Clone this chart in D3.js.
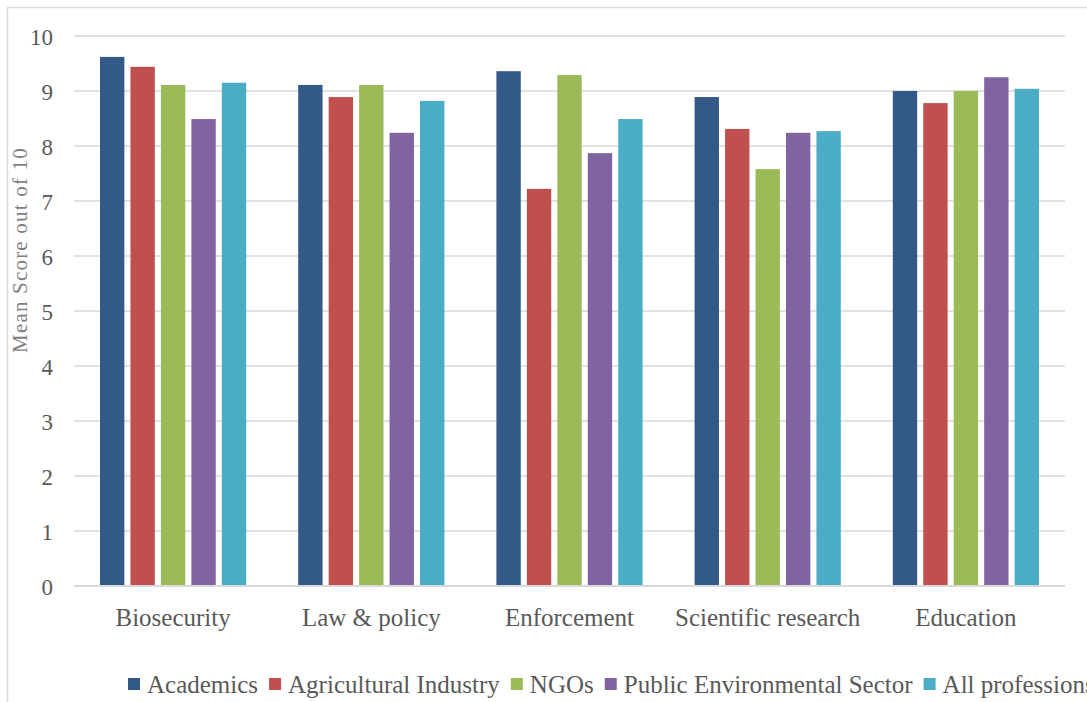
<!DOCTYPE html>
<html>
<head>
<meta charset="utf-8">
<script src="https://cdn.jsdelivr.net/npm/d3@7"></script>
<style>
  html, body { margin: 0; padding: 0; background: #fff; }
  svg { display: block; }
  text { font-family: "Liberation Serif", "DejaVu Serif", serif; }
</style>
</head>
<body>
<svg id="chart" width="1087" height="702"></svg>
<script>
// Mean importance scores by domain and professional group
const categories = ["Biosecurity", "Law & policy", "Enforcement", "Scientific research", "Education"];
const seriesNames = ["Academics", "Agricultural Industry", "NGOs", "Public Environmental Sector", "All professions"];
const academics     = [9.62, 9.11, 9.36, 8.89, 9.00];
const agricultural  = [9.44, 8.89, 7.22, 8.31, 8.78];
const ngos          = [9.11, 9.11, 9.29, 7.58, 9.00];
const publicEnv     = [8.49, 8.24, 7.87, 8.24, 9.25];
const allProf       = [9.15, 8.82, 8.49, 8.27, 9.04];
const yTicks = [0, 1, 2, 3, 4, 5, 6, 7, 8, 9, 10];

const seriesValues = [academics, agricultural, ngos, publicEnv, allProf];
const colors = ["#335a86", "#c0504d", "#9bbb59", "#8064a2", "#4bacc6"];

const svg = d3.select("#chart");
const W = 1087, H = 702;
const m = { left: 74, right: 22, top: 36, bottom: 116 };
const textColor = "#595959";

// outer chart border (runs off the right and bottom edges)
svg.append("rect")
  .attr("x", 7.5).attr("y", 7.5)
  .attr("width", 1100).attr("height", 720)
  .attr("fill", "none").attr("stroke", "#dcdcdc").attr("stroke-width", 1.5);

const x0 = d3.scaleBand().domain(categories).range([m.left, W - m.right]);
const x1 = d3.scaleBand().domain(seriesNames).range([26, x0.bandwidth() - 26]).paddingInner(0.2);
const y = d3.scaleLinear().domain([0, 10]).range([H - m.bottom, m.top]);

// gridlines
svg.append("g").selectAll("line").data(yTicks.filter(d => d > 0)).join("line")
  .attr("x1", m.left).attr("x2", W - m.right)
  .attr("y1", d => y(d)).attr("y2", d => y(d))
  .attr("stroke", "#d9d9d9").attr("stroke-width", 1.5);

// y tick labels
const yAxis = d3.axisLeft(y).tickValues(yTicks).tickSize(0).tickPadding(0).tickFormat(d3.format("d"));
const yg = svg.append("g").attr("transform", `translate(${m.left - 21},0)`).call(yAxis);
yg.select(".domain").remove();
yg.selectAll("text").attr("font-size", 23).attr("fill", textColor)
  .attr("font-family", "Liberation Serif, serif").attr("dy", "0.35em");

// bars
const groups = svg.append("g").selectAll("g").data(categories).join("g")
  .attr("transform", d => `translate(${x0(d)},0)`);
groups.selectAll("rect")
  .data((c, i) => seriesNames.map((s, j) => ({ s, v: seriesValues[j][i], j })))
  .join("rect")
  .attr("x", d => x1(d.s))
  .attr("width", x1.bandwidth())
  .attr("y", d => y(d.v))
  .attr("height", d => y(0) - y(d.v))
  .attr("fill", d => colors[d.j]);

// baseline
svg.append("line")
  .attr("x1", m.left).attr("x2", W - m.right)
  .attr("y1", y(0)).attr("y2", y(0))
  .attr("stroke", "#d9d9d9").attr("stroke-width", 2);

// category labels
const xAxis = d3.axisBottom(x0).tickSize(0).tickPadding(0);
const xg = svg.append("g").attr("transform", `translate(0,${y(0) + 31})`).call(xAxis);
xg.select(".domain").remove();
xg.selectAll("text").attr("font-size", 25).attr("fill", textColor)
  .attr("font-family", "Liberation Serif, serif").attr("dy", "0.35em");

// y axis title
svg.append("text")
  .attr("transform", "translate(27,250) rotate(-90)")
  .attr("text-anchor", "middle")
  .attr("font-size", 21).attr("letter-spacing", 1.2).attr("fill", "#7f7f7f")
  .text("Mean Score out of 10");

// legend
const legend = svg.append("g").attr("transform", "translate(128,684)");
let lx = 0;
seriesNames.forEach((name, j) => {
  const g = legend.append("g").attr("transform", `translate(${lx},0)`);
  g.append("rect").attr("x", 0).attr("y", -6).attr("width", 12).attr("height", 12).attr("fill", colors[j]);
  const t = g.append("text").attr("x", 19).attr("y", 0).attr("dy", "0.35em")
    .attr("font-size", 25).attr("fill", textColor).text(name);
  lx += 19 + t.node().getComputedTextLength() + 11;
});
</script>
</body>
</html>
